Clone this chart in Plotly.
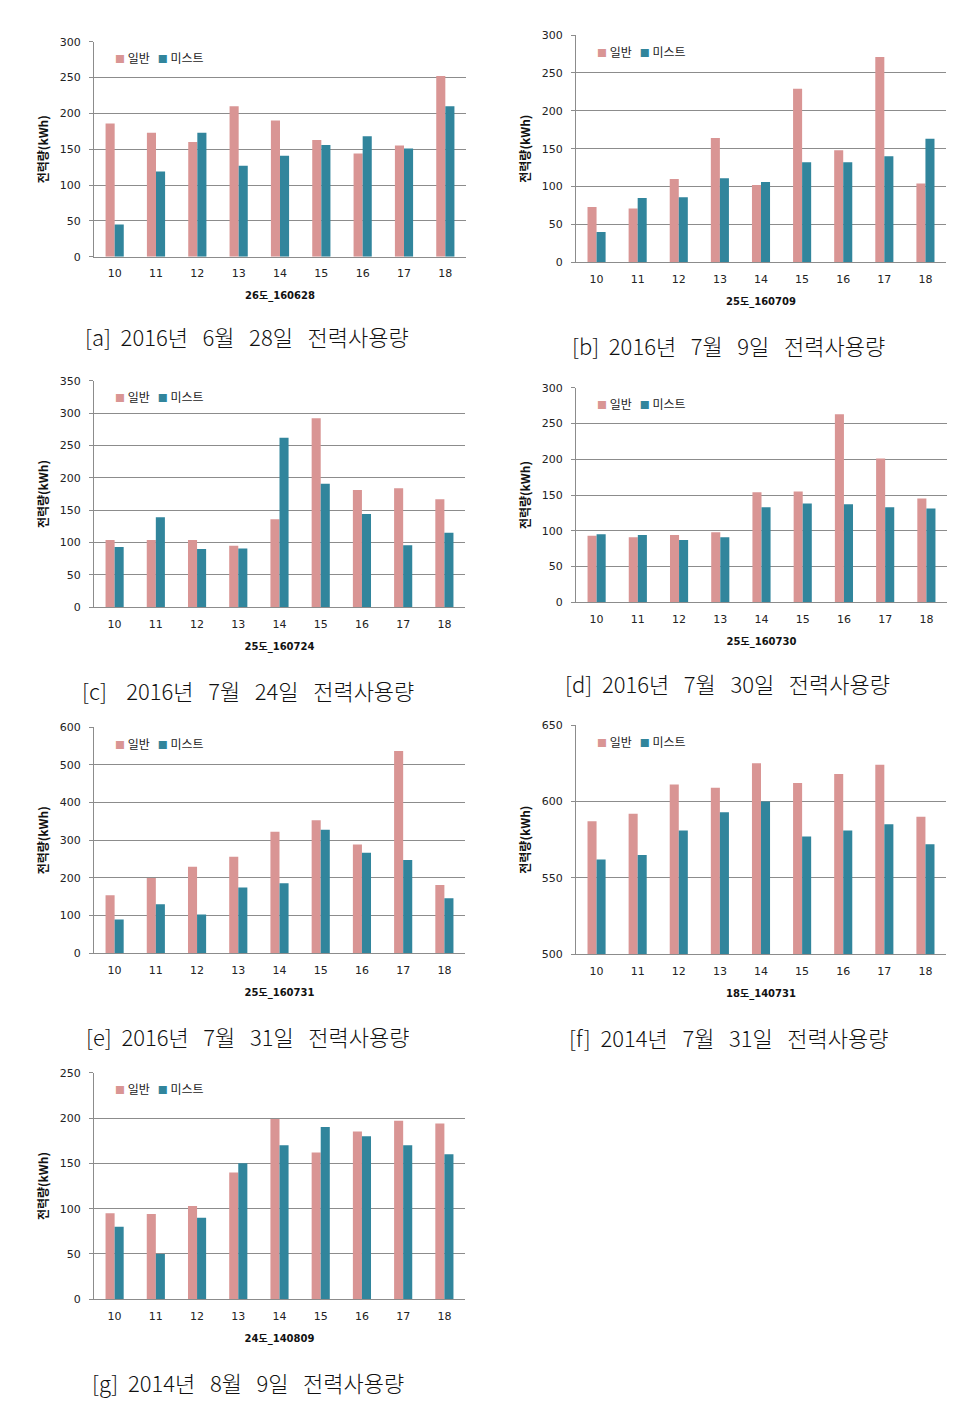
import plotly.graph_objects as go

hours = ["10", "11", "12", "13", "14", "15", "16", "17", "18"]
series_names = ["일반", "미스트"]

# values per panel: (일반, 미스트)
a_normal = [186, 173, 160, 210, 190, 163, 144, 155, 252]
a_mist = [45, 119, 173, 127, 141, 156, 168, 151, 210]
b_normal = [73, 71, 110, 164, 102, 229, 148, 271, 104]
b_mist = [40, 85, 86, 111, 106, 132, 132, 140, 163]
c_normal = [104, 104, 104, 95, 136, 292, 181, 184, 167]
c_mist = [93, 139, 90, 91, 262, 191, 144, 96, 115]
d_normal = [93, 91, 94, 98, 154, 155, 263, 201, 145]
d_mist = [95, 94, 87, 91, 133, 138, 137, 133, 131]
e_normal = [154, 200, 230, 256, 323, 353, 289, 537, 181]
e_mist = [90, 130, 103, 175, 186, 328, 267, 248, 146]
f_normal = [587, 592, 611, 609, 625, 612, 618, 624, 590]
f_mist = [562, 565, 581, 593, 600, 577, 581, 585, 572]
g_normal = [95, 94, 103, 140, 199, 162, 185, 197, 194]
g_mist = [80, 50, 90, 150, 170, 190, 180, 170, 160]

x_titles = ["26도_160628", "25도_160709", "25도_160724", "25도_160730",
            "25도_160731", "18도_140731", "24도_140809"]
caption_labels = ["[a]", "[b]", "[c]", "[d]", "[e]", "[f]", "[g]"]
caption_dates = ["2016년 6월 28일", "2016년 7월 9일", "2016년 7월 24일",
                 "2016년 7월 30일", "2016년 7월 31일", "2014년 7월 31일",
                 "2014년 8월 9일"]
caption_tail = "전력사용량"
y_ranges = [(0, 300), (0, 300), (0, 350), (0, 300), (0, 600), (500, 650), (0, 250)]
y_dticks = [50, 50, 50, 50, 100, 50, 50]
y_title = "전력량(kWh)"

normals = [a_normal, b_normal, c_normal, d_normal, e_normal, f_normal, g_normal]
mists = [a_mist, b_mist, c_mist, d_mist, e_mist, f_mist, g_mist]

OFF = 8  # page body margin
W, H = 974 - 2 * OFF, 1409 - 2 * OFF
PINK = "#D99594"
TEAL = "#31859C"
GRID = "#8C8C8C"

# panel pixel boxes in page coords: (left, right, top, bottom)
boxes = [
    (94, 466, 41.7, 256.7),
    (576, 946, 35, 262.3),
    (94, 465, 380.7, 607.3),
    (576, 947, 387.7, 602.3),
    (94, 465, 727.3, 953.3),
    (576, 946, 725, 954.3),
    (94, 465, 1072.7, 1299.3),
]
cap_pos = [(247, 336), (728, 345), (248, 690), (727.5, 683),
           (247.5, 1036), (728.5, 1037), (247.5, 1382)]


def px(x):
    return (x - OFF) / W


def py(y):
    return 1 - (y - OFF) / H


SP = "\u00a0"

fig = go.Figure()
layout = dict(width=W, height=H, margin=dict(l=0, r=0, t=0, b=0),
              paper_bgcolor="white", plot_bgcolor="white",
              barmode="group", bargap=0.56, bargroupgap=0,
              showlegend=False, annotations=[])

tick_font = dict(family="DejaVu Sans, Noto Sans CJK KR", size=11, color="#222222")
title_font = dict(family="DejaVu Sans, Noto Sans CJK KR", size=10, color="#111111")
ytitle_font = dict(family="Noto Sans CJK KR, DejaVu Sans", size=12, color="#111111")

for i in range(7):
    n = "" if i == 0 else str(i + 1)
    xa, ya = "x" + n, "y" + n
    l, r, t, b = boxes[i]
    fig.add_trace(go.Bar(x=hours, y=normals[i], name=series_names[0],
                         marker=dict(color=PINK, line=dict(width=0)),
                         xaxis=xa, yaxis=ya, offsetgroup="n"))
    fig.add_trace(go.Bar(x=hours, y=mists[i], name=series_names[1],
                         marker=dict(color=TEAL, line=dict(width=0)),
                         xaxis=xa, yaxis=ya, offsetgroup="m"))
    layout["xaxis" + n] = dict(
        domain=[px(l), px(r)], anchor=ya, type="category",
        range=[-0.5, 8.5], showgrid=False, showline=True, linecolor=GRID,
        linewidth=1, ticks="", tickfont=tick_font, ticklabelstandoff=6,
        title=dict(text="<b>" + x_titles[i] + "</b>", font=title_font, standoff=13),
        automargin=False, fixedrange=True)
    layout["yaxis" + n] = dict(
        domain=[py(b), py(t)], anchor=xa, range=list(y_ranges[i]),
        dtick=y_dticks[i], showgrid=True, gridcolor=GRID, gridwidth=1,
        showline=True, linecolor=GRID, linewidth=1, ticks="outside",
        ticklen=4, tickcolor=GRID, tickfont=tick_font, ticklabelstandoff=6,
        title=dict(text="<b>" + y_title + "</b>", font=ytitle_font, standoff=8),
        zeroline=False, automargin=False, fixedrange=True)
    # in-plot legend
    layout["annotations"].append(dict(
        xref="paper", yref="paper", x=px(l + 19), y=py(t + 16),
        xanchor="left", yanchor="middle", showarrow=False,
        text=("<span style='color:%s;font-size:10px'>■</span>%s%s" + SP * 3 +
              "<span style='color:%s;font-size:10px'>■</span>%s%s")
        % (PINK, SP, series_names[0], TEAL, SP, series_names[1]),
        font=dict(family="Noto Sans CJK KR", size=12, color="#222222")))
    # caption
    cx, cy = cap_pos[i]
    lead_gap = SP * (4 if caption_labels[i] == "[c]" else 2)
    cap_text = (caption_labels[i] + lead_gap
                + caption_dates[i].replace(" ", SP * 3) + SP * 3 + caption_tail)
    layout["annotations"].append(dict(
        xref="paper", yref="paper", x=px(cx), y=py(cy),
        xanchor="center", yanchor="middle", showarrow=False,
        text=cap_text,
        font=dict(family="Noto Sans CJK KR", size=22, color="#111111", weight=300)))

fig.update_layout(**layout)
fig.write_html("out.html")
